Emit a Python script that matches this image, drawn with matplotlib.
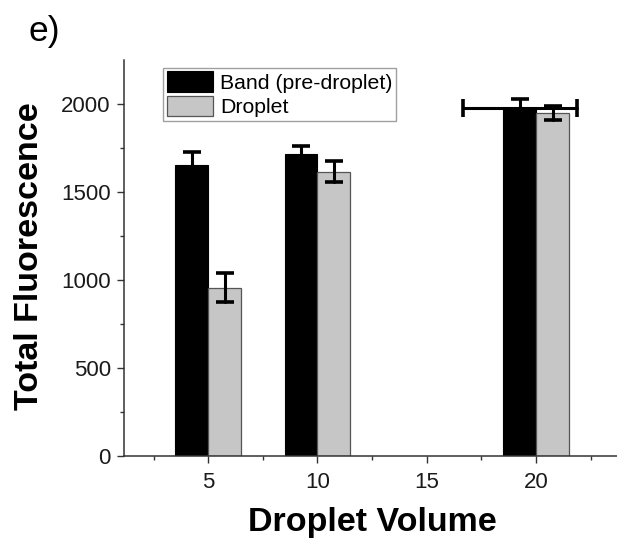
import numpy as np
import matplotlib
matplotlib.use("Agg")
import matplotlib.pyplot as plt
from matplotlib.patches import Patch

plt.rcParams['font.family'] = ['Liberation Sans', 'DejaVu Sans']

# Data
volumes = np.array([5, 10, 20])
band = np.array([1655, 1714, 1976])
band_err = np.array([72, 50, 53])
band_xerr = np.array([0, 0, 2.6])
droplet = np.array([958, 1617, 1948])
droplet_err = np.array([84, 60, 40])
series_labels = ["Band (pre-droplet)", "Droplet"]
x_ticks = [5, 10, 15, 20]
y_ticks = [0, 500, 1000, 1500, 2000]

bar_w = 1.5
black = "#000000"
grey = "#c6c6c6"
axis_col = "#333333"

fig = plt.figure(figsize=(6.17, 5.45), dpi=100)
ax = fig.add_axes([0.201, 0.1624, 0.799, 0.7275])

xb = volumes - bar_w / 2
xd = volumes + bar_w / 2
ax.bar(xb, band, width=bar_w, color=black, edgecolor=black, linewidth=0.8, zorder=2)
ax.bar(xd, droplet, width=bar_w, color=grey, edgecolor="#555555", linewidth=0.9, zorder=2)

ekw = dict(fmt="none", ecolor=black, elinewidth=2.2, capsize=6.5, capthick=2.6, zorder=3)
e1 = ax.errorbar(xb, band, yerr=band_err, **ekw)
e2 = ax.errorbar(xd, droplet, yerr=droplet_err, **ekw)
m = band_xerr > 0
e3 = ax.errorbar(xb[m], band[m], xerr=band_xerr[m], **ekw)
for e in (e1, e2, e3):
    for c in e[1]:
        c.set_solid_capstyle("round")
    for l in e[2]:
        l.set_capstyle("round")

ax.set_xlim(1.15, 23.7)
ax.set_ylim(0, 2250)
ax.set_xticks(x_ticks)
ax.set_xticks([2.5, 7.5, 12.5, 17.5, 22.5], minor=True)
ax.set_yticks(y_ticks)
ax.set_yticks([250, 750, 1250, 1750], minor=True)

for s in ("top", "right"):
    ax.spines[s].set_visible(False)
for s in ("left", "bottom"):
    ax.spines[s].set_color(axis_col)
    ax.spines[s].set_linewidth(1.1)

ax.tick_params(which="major", direction="out", length=5, width=1.0, color=axis_col,
               labelsize=16, labelcolor="#1a1a1a", pad=4.5)
ax.tick_params(which="minor", direction="out", length=3, width=1.0, color=axis_col)
ax.tick_params(axis="x", which="major", pad=6)

ax.set_xlabel("Droplet Volume", fontsize=24.5, fontweight="bold")
ax.set_ylabel("Total Fluorescence", fontsize=24.5, fontweight="bold")
ax.xaxis.set_label_coords(0.504, -0.128)
ax.yaxis.set_label_coords(-0.16, 0.505)

handles = [Patch(facecolor=black, edgecolor=black, linewidth=0.8),
           Patch(facecolor=grey, edgecolor="#555555", linewidth=0.9)]
leg = fig.legend(handles, series_labels, loc="upper left",
                 bbox_to_anchor=(0.2647, 0.8758), fontsize=15.3,
                 frameon=True, fancybox=False, edgecolor="#888888",
                 handlelength=2.16, handleheight=1.1, handletextpad=0.35,
                 labelspacing=0.15, borderpad=0.17, borderaxespad=0)
leg.get_frame().set_linewidth(1.0)

fig.text(28 / 617, 1 - 15 / 545, "e)", fontsize=25.5, va="top", ha="left")

fig.savefig("out.png", dpi=100)
